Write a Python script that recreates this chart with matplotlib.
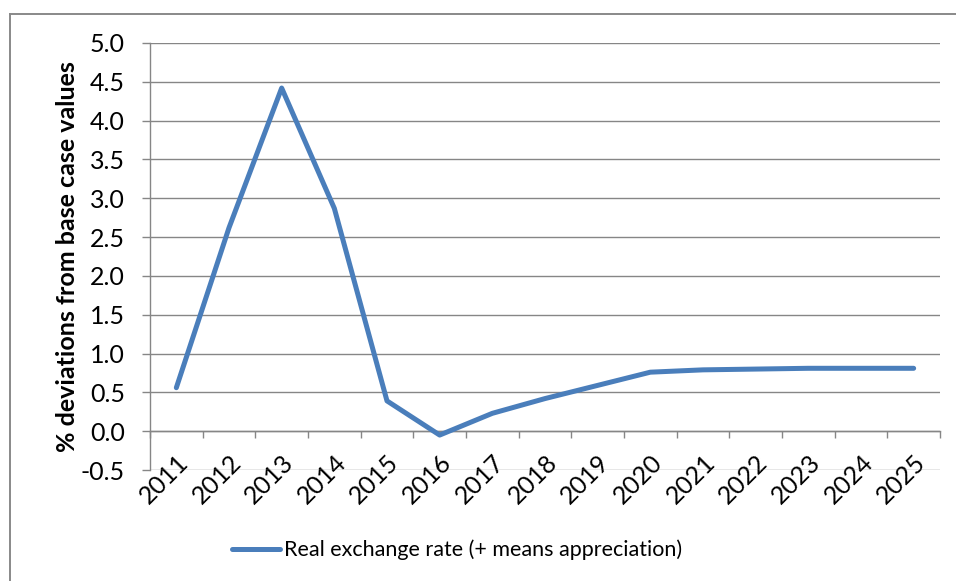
import numpy as np
import matplotlib
matplotlib.use("Agg")
import matplotlib.pyplot as plt
from matplotlib.lines import Line2D
from matplotlib.transforms import ScaledTranslation

plt.rcParams['font.family'] = ['Lato', 'DejaVu Sans']

years = ['2011', '2012', '2013', '2014', '2015', '2016', '2017', '2018',
         '2019', '2020', '2021', '2022', '2023', '2024', '2025']
rer_dev = [0.56, 2.62, 4.42, 2.87, 0.39, -0.05, 0.23, 0.42,
           0.59, 0.76, 0.79, 0.80, 0.81, 0.81, 0.81]
y_ticks = np.arange(-0.5, 5.01, 0.5)

W, H = 956, 581
fig = plt.figure(figsize=(W / 100, H / 100), dpi=100)
ax = fig.add_axes([150 / W, 1 - 470 / H, 790 / W, 427 / H])

grid_c = '#868686'
line_c = '#4A7EBB'

x = np.arange(len(years))
ax.plot(x, rer_dev, color=line_c, lw=3.6, solid_joinstyle='round',
        solid_capstyle='round', label='Real exchange rate (+ means appreciation)',
        zorder=3)

ax.set_xlim(-0.5, len(years) - 0.5)
ax.set_ylim(-0.5, 5.0)
ax.set_yticks(y_ticks)
ax.set_yticklabels([f'{v:.1f}' for v in y_ticks])
ax.yaxis.grid(True, color=grid_c, lw=1.0)
ax.set_axisbelow(True)
ax.tick_params(axis='y', length=6, width=1.0, color=grid_c, labelsize=18,
               pad=12)
for s in ['top', 'right']:
    ax.spines[s].set_visible(False)
ax.spines['left'].set_color(grid_c)
ax.spines['left'].set_linewidth(1.0)

# horizontal axis crosses at zero, tick marks between categories
ax.spines['bottom'].set_position(('data', 0))
ax.spines['bottom'].set_color(grid_c)
ax.spines['bottom'].set_linewidth(1.0)
ax.set_xticks(np.arange(-0.5, len(years), 1.0))
ax.tick_params(axis='x', length=5, width=1.0, color=grid_c, labelbottom=False)

# category labels hang from the zero line
lab = ax.secondary_xaxis(0.5 / 5.5)
lab.spines['bottom'].set_visible(False)
lab.set_xticks(x)
lab.set_xticklabels(years, rotation=45, ha='right', va='top',
                    rotation_mode='anchor')
lab.tick_params(axis='x', length=0, labelsize=18, pad=14)
for t in lab.get_xticklabels():
    t.set_transform(t.get_transform() + ScaledTranslation(
        0, 0, fig.dpi_scale_trans))

ax.set_ylabel('% deviations from base case values', fontsize=18,
              fontweight='bold', labelpad=1)

ax.legend(loc='center', bbox_to_anchor=(457 / W, 1 - 550 / H),
          bbox_transform=fig.transFigure, frameon=False, fontsize=15.5,
          handlelength=2.25, handletextpad=0.2)

# chart frame
fc = '#898989'
fig.add_artist(Line2D([9.5 / W, 9.5 / W], [0, 1 - 14 / H], color=fc, lw=1.4,
                      transform=fig.transFigure))
fig.add_artist(Line2D([9.5 / W, 1], [1 - 14 / H, 1 - 14 / H], color=fc,
                      lw=1.4, transform=fig.transFigure))

fig.savefig('out.png', dpi=100)
